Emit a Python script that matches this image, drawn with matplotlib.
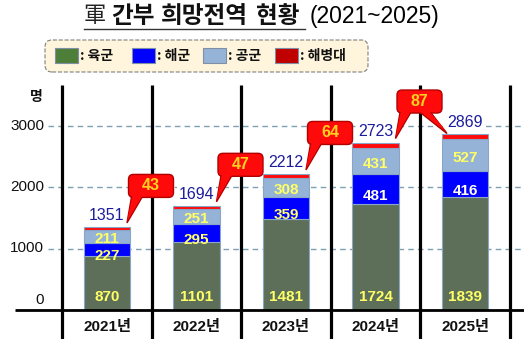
import numpy as np
import matplotlib.pyplot as plt
from matplotlib.patches import FancyBboxPatch, Rectangle, Polygon
from matplotlib.transforms import IdentityTransform

years = ['2021년', '2022년', '2023년', '2024년', '2025년']
army = [870, 1101, 1481, 1724, 1839]
navy = [227, 295, 359, 481, 416]
air = [211, 251, 308, 431, 527]
marines = [43, 47, 64, 87, 87]
totals = [1351, 1694, 2212, 2723, 2869]
yticks = [0, 1000, 2000, 3000]
legend_names = [': 육군', ': 해군', ': 공군', ': 해병대']

KR = 'Noto Sans CJK KR'
plt.rcParams['font.family'] = ['Liberation Sans', KR]

W, H = 524, 339
fig = plt.figure(figsize=(W / 100, H / 100), dpi=100)
ax = fig.add_axes([0, 0, 1, 1])
ax.axis('off')

# 89.5 px per year, 0.0615 px per person, baseline at y=310 px from top
XS, YS, X0, Y0 = 89.5, 0.0615, 107, 310
ax.set_xlim(-X0 / XS, (W - X0) / XS)
ax.set_ylim(-(H - Y0) / YS, Y0 / YS)
xmax = (W - X0) / XS

x = np.arange(len(years))
army_c, navy_c, air_c, mar_c = '#5d6f59', '#0000ff', '#95b3d7', '#ff0a0a'
edge = '#8aa6c6'
bw = 0.515

# grid + y labels
for v in yticks[1:]:
    ax.plot([-0.66, xmax], [v, v], ls=(0, (4, 3)), color='#7f9fb3', lw=1.0, zorder=1)
    ax.text(-0.70, v, str(v), ha='right', va='center', fontsize=11, color='#111111')
ax.text(-0.70, 160, '0', ha='right', va='center', fontsize=11, color='#111111')
ax.text(-0.72, (Y0 - 97) / YS, '명', ha='right', va='center', fontsize=10,
        fontweight='bold', family=KR, color='#111111')

b1 = np.array(army)
b2 = b1 + np.array(navy)
b3 = b2 + np.array(air)
ax.bar(x, army, bw, color=army_c, edgecolor=edge, lw=0.8, zorder=3)
ax.bar(x, navy, bw, bottom=b1, color=navy_c, edgecolor=edge, lw=0.8, zorder=3)
ax.bar(x, air, bw, bottom=b2, color=air_c, edgecolor=edge, lw=0.8, zorder=3)
ax.bar(x, marines, bw, bottom=b3, color=mar_c, edgecolor=edge, lw=0.8, zorder=3)

# separators and baseline
ax.vlines(np.arange(len(years) + 1) - 0.5, -(H - Y0) / YS, (Y0 - 85) / YS,
          color='black', lw=2.3, zorder=4)
ax.hlines(0, (15 - X0) / XS, xmax, color='black', lw=2.0, zorder=4)

# value labels
for i in x:
    ax.text(i, 211, str(army[i]), ha='center', va='center', fontsize=11,
            fontweight='bold', color='#ffff66', zorder=5)
    nc = '#ffff66' if i < 3 else '#fffff0'
    ax.text(i, b1[i] + navy[i] / 2 - 110, str(navy[i]), ha='center', va='center',
            fontsize=11, fontweight='bold', color=nc, zorder=5)
    ax.text(i, b2[i] + air[i] / 2 - 40, str(air[i]), ha='center', va='center',
            fontsize=11, fontweight='bold', color='#ffff66', zorder=5)
    ax.annotate(str(totals[i]), (i, totals[i]), xytext=(0, 4),
                textcoords='offset pixels', ha='center', va='bottom',
                fontsize=11.5, color='#1c1c9c', zorder=5,
                bbox=dict(boxstyle='square,pad=0.1', fc='white', ec='none'))
    ax.text(i, (Y0 - 327) / YS, years[i], ha='center', va='center',
            fontsize=11, fontweight='bold', color='#111111')


# marine callouts, drawn in pixels around the bar tops
def add(p):
    p.set_transform(IdentityTransform())
    fig.add_artist(p)


def bubble(cx, cy, text, tips):
    for (tx, ty), (b0, b1_) in tips:
        add(Polygon([(cx + b0, cy - 8), (cx + b1_, cy - 8), (tx, ty)],
                    fc=mar_c, ec='#b00000', lw=1, zorder=6))
    add(FancyBboxPatch((cx - 22.5, cy - 11.5), 45, 23,
                       boxstyle='round,pad=0,rounding_size=5',
                       fc=mar_c, ec='#b00000', lw=1, zorder=7))
    for (tx, ty), (b0, b1_) in tips:
        add(Polygon([(cx + b0 + 0.8, cy - 8), (cx + b1_ - 0.8, cy - 8), (tx, ty + 1.5)],
                    fc=mar_c, ec='none', zorder=8))
    fig.text(cx / W, cy / H, text, ha='center', va='center', fontsize=11.5,
             fontweight='bold', color='#ffd21f', zorder=9)


tops = ax.transData.transform(np.column_stack([x, totals]))
for i in range(4):
    tx, ty = tops[i][0] + 20, tops[i][1] + 4
    tips = [((tx, ty), (-19, -7))]
    if i == 3:
        tips.append(((tops[4][0] - 18, tops[4][1]), (-3, 9)))
    bubble(tx + 24, ty + 37, str(marines[i]), tips)

# title
ty_t = 1 - 16 / H
fig.text(84 / W, ty_t, '軍', family=KR, fontsize=16, color='#222222',
         ha='left', va='center')
for wx, word in [(111, '간부'), (161, '희망전역'), (256, '현황')]:
    fig.text(wx / W, ty_t, word, family=KR, fontsize=17, fontweight='bold',
             color='#111111', ha='left', va='center')
fig.text(310 / W, ty_t, '(2021~2025)', family='Liberation Sans', fontsize=16.5,
         color='#000000', ha='left', va='center')
fig.add_artist(plt.Line2D([84 / W, 305 / W], [1 - 29 / H, 1 - 29 / H],
                          color='#333333', lw=1.0, transform=fig.transFigure))

# legend box
add(FancyBboxPatch((45, H - 72), 323, 32, boxstyle='round,pad=0,rounding_size=7',
                   fc='#fff5dc', ec='#808080', ls='--', lw=0.8))
sw_x = [55, 132, 203, 275]
for sx, c, name in zip(sw_x, ['#4e7f3a', navy_c, air_c, '#c00000'], legend_names):
    add(Rectangle((sx, H - 63), 23, 15, fc=c, ec='#7f8fa6', lw=0.8))
    fig.text((sx + 25) / W, 1 - 56 / H, name, family=KR, fontsize=10,
             fontweight='bold', color='#111111', ha='left', va='center')

fig.savefig('out.png', dpi=100)
